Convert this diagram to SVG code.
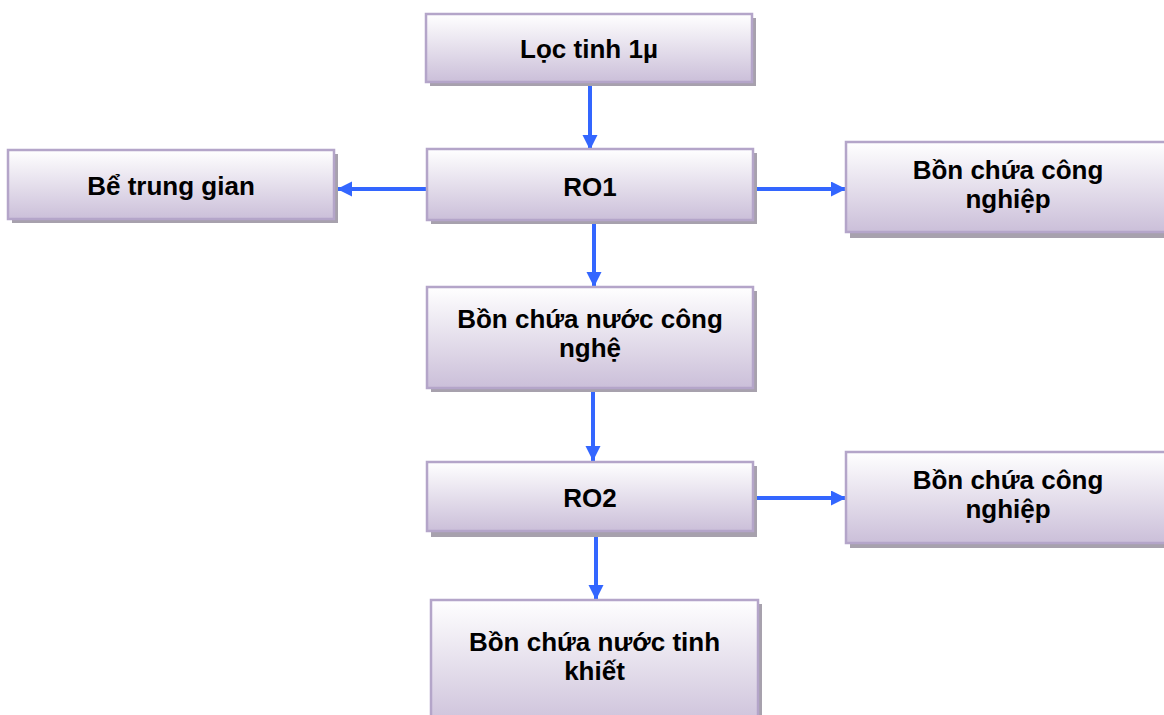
<svg xmlns="http://www.w3.org/2000/svg" width="1164" height="715" viewBox="0 0 1164 715">
<defs>
<linearGradient id="g" x1="0" y1="0" x2="0" y2="1">
<stop offset="0" stop-color="#FFFFFF"/>
<stop offset="1" stop-color="#CBBFD9"/>
</linearGradient>
<marker id="ah" markerUnits="userSpaceOnUse" markerWidth="16" markerHeight="16" refX="15" refY="7.5" orient="auto" viewBox="0 0 16 16">
<path d="M0,0 L15,7.5 L0,15 Z" fill="#3366FF"/>
</marker>
<style>
.sh{fill:#A7A1AD}
.bx{fill:url(#g);stroke:#B4A5C9;stroke-width:2.5}
.t{font-family:"Liberation Sans",Arial,sans-serif;font-weight:bold;font-size:26px;fill:#000;text-anchor:middle}
.c{stroke:#3366FF;stroke-width:4;fill:none;marker-end:url(#ah)}
</style>
</defs>
<g id="connectors">
<line class="c" x1="590" y1="84" x2="590" y2="150"/>
<line class="c" x1="426" y1="189" x2="337" y2="189"/>
<line class="c" x1="756" y1="189" x2="846" y2="189"/>
<line class="c" x1="594" y1="224" x2="594" y2="287"/>
<line class="c" x1="593" y1="392" x2="593" y2="461"/>
<line class="c" x1="756" y1="498" x2="846" y2="498"/>
<line class="c" x1="596" y1="537" x2="596" y2="600"/>
</g>
<g id="n-loc">
<rect class="sh" x="430" y="18" width="326" height="68"/>
<rect class="bx" x="426" y="14" width="326" height="68"/>
<text class="t" x="589" y="58">Lọc tinh 1µ</text>
</g>
<g id="n-be">
<rect class="sh" x="12" y="154" width="326" height="69"/>
<rect class="bx" x="8" y="150" width="326" height="69"/>
<text class="t" x="171" y="195">Bể trung gian</text>
</g>
<g id="n-ro1">
<rect class="sh" x="431" y="153" width="326" height="71"/>
<rect class="bx" x="427" y="149" width="326" height="71"/>
<text class="t" x="590" y="196">RO1</text>
</g>
<g id="n-bcn1">
<rect class="sh" x="850" y="146" width="330" height="92"/>
<rect class="bx" x="846" y="142" width="330" height="90"/>
<text class="t" x="1008" y="179">Bồn chứa công</text>
<text class="t" x="1008" y="208">nghiệp</text>
</g>
<g id="n-bncn">
<rect class="sh" x="431" y="291" width="326" height="101"/>
<rect class="bx" x="427" y="287" width="326" height="101"/>
<text class="t" x="590" y="328">Bồn chứa nước công</text>
<text class="t" x="590" y="357">nghệ</text>
</g>
<g id="n-ro2">
<rect class="sh" x="431" y="466" width="326" height="71"/>
<rect class="bx" x="427" y="462" width="326" height="69"/>
<text class="t" x="590" y="507">RO2</text>
</g>
<g id="n-bcn2">
<rect class="sh" x="850" y="456" width="330" height="92"/>
<rect class="bx" x="846" y="452" width="330" height="91"/>
<text class="t" x="1008" y="489">Bồn chứa công</text>
<text class="t" x="1008" y="518">nghiệp</text>
</g>
<g id="n-bnt">
<rect class="sh" x="435" y="604" width="327" height="130"/>
<rect class="bx" x="431" y="600" width="327" height="130"/>
<text class="t" x="594.500" y="651">Bồn chứa nước tinh</text>
<text class="t" x="594.500" y="680">khiết</text>
</g>
</svg>
